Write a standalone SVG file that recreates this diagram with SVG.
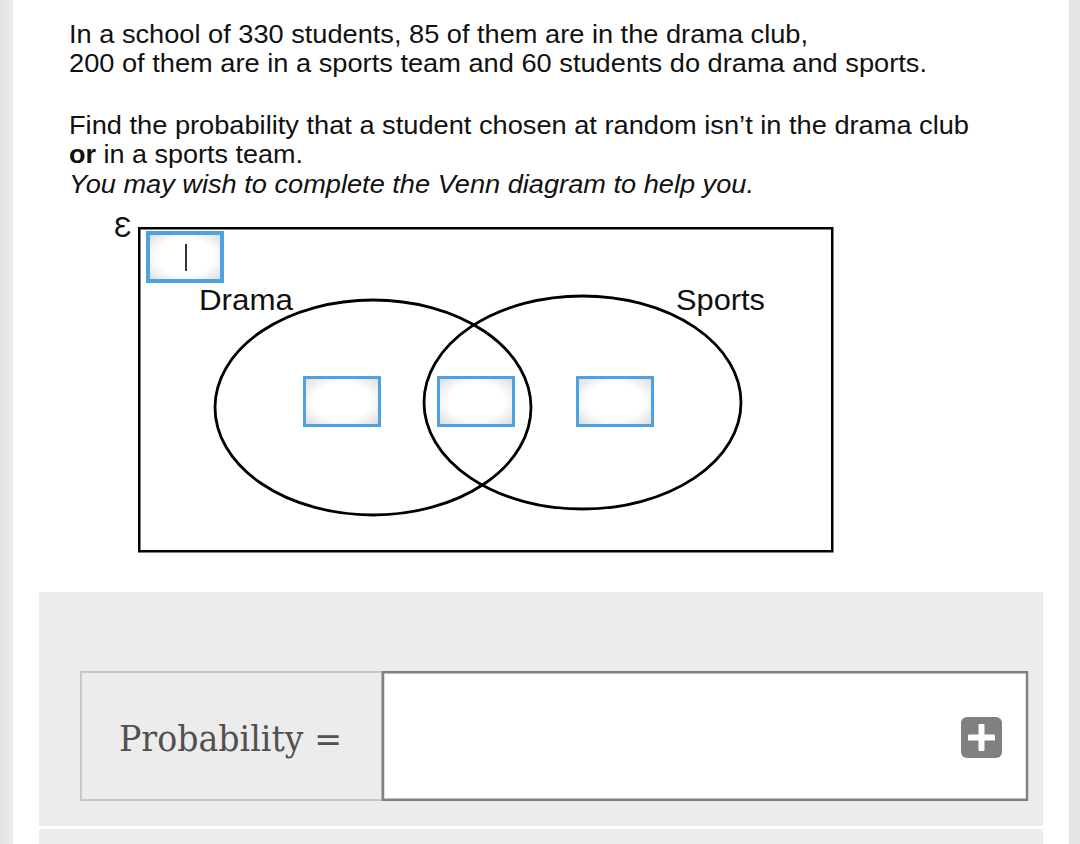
<svg xmlns="http://www.w3.org/2000/svg" width="1080" height="844" viewBox="0 0 1080 844">
<defs>
<radialGradient id="inset" cx="0.5" cy="0.5" r="0.7">
<stop offset="0.55" stop-color="#ffffff"/>
<stop offset="1" stop-color="#d9d9d9"/>
</radialGradient>
<linearGradient id="lstrip" x1="0" y1="0" x2="1" y2="0">
<stop offset="0" stop-color="#e2e2e2"/>
<stop offset="1" stop-color="#ededed"/>
</linearGradient>
<style>
.q{font-family:"Liberation Sans",Arial,sans-serif;font-size:26px;fill:#111}
.lbl{font-family:"Liberation Sans",Arial,sans-serif;font-size:29px;fill:#111}
.ell{fill:none;stroke:#000;stroke-width:2.8}
.inp{fill:url(#inset);stroke:#4ea2e0;stroke-width:3}
</style>
</defs>
<rect x="0" y="0" width="1080" height="844" fill="#ffffff"/>
<rect x="0" y="0" width="13" height="844" fill="url(#lstrip)"/>
<rect x="1069" y="0" width="11" height="844" fill="#e5e5e5"/>

<g id="question">
<text class="q" x="69" y="43" textLength="739" lengthAdjust="spacingAndGlyphs">In a school of 330 students, 85 of them are in the drama club,</text>
<text class="q" x="69" y="72" textLength="858" lengthAdjust="spacingAndGlyphs">200 of them are in a sports team and 60 students do drama and sports.</text>
<text class="q" x="69" y="134" textLength="900" lengthAdjust="spacingAndGlyphs">Find the probability that a student chosen at random isn’t in the drama club</text>
<text class="q" x="69" y="163" textLength="234" lengthAdjust="spacingAndGlyphs"><tspan font-weight="bold">or</tspan> in a sports team.</text>
<text class="q" x="69" y="193" font-style="italic" textLength="685" lengthAdjust="spacingAndGlyphs">You may wish to complete the Venn diagram to help you.</text>
</g>

<g id="universe">
<text class="lbl" x="114" y="237" font-size="32">Ɛ</text>
<rect x="139.25" y="228.25" width="693" height="323" fill="none" stroke="#000" stroke-width="2.5"/>
</g>
<g id="drama">
<ellipse class="ell" cx="373" cy="407.5" rx="158" ry="107.5"/>
<text class="lbl" x="199" y="310" textLength="94" lengthAdjust="spacingAndGlyphs">Drama</text>
</g>
<g id="sports">
<ellipse class="ell" cx="582.5" cy="402.5" rx="158.5" ry="106.5"/>
<text class="lbl" x="676" y="310" textLength="89" lengthAdjust="spacingAndGlyphs">Sports</text>
</g>

<g id="box-outside">
<rect x="148" y="233" width="74" height="48" fill="url(#inset)" stroke="#4ea2e0" stroke-width="4"/>
<line x1="186" y1="244" x2="186" y2="271" stroke="#000" stroke-width="1.6"/>
</g>
<g id="box-drama"><rect class="inp" x="304.5" y="377.5" width="75" height="48"/></g>
<g id="box-both"><rect class="inp" x="438.5" y="377.5" width="75" height="48"/></g>
<g id="box-sports"><rect class="inp" x="577.5" y="377.5" width="75" height="48"/></g>

<g id="answer-panel">
<rect x="39" y="592" width="1004" height="234" fill="#ececec"/>
<rect x="39" y="829" width="1004" height="15" fill="#ececec"/>
<rect x="81" y="672" width="301" height="128" fill="#ececec" stroke="#c8c8c8" stroke-width="2"/>
<text x="119" y="751" font-family="'DejaVu Serif','Liberation Serif',serif" font-size="35" fill="#505050" textLength="223" lengthAdjust="spacingAndGlyphs">Probability =</text>
<rect x="383" y="672.25" width="644" height="127.5" fill="#ffffff" stroke="#808080" stroke-width="2.5"/>
</g>
<g id="plus-button">
<rect x="961" y="717" width="41" height="41" rx="6" fill="#808080"/>
<rect x="968" y="734.5" width="27" height="6" rx="1" fill="#fff"/>
<rect x="978.5" y="724" width="6" height="27" rx="1" fill="#fff"/>
</g>
</svg>
